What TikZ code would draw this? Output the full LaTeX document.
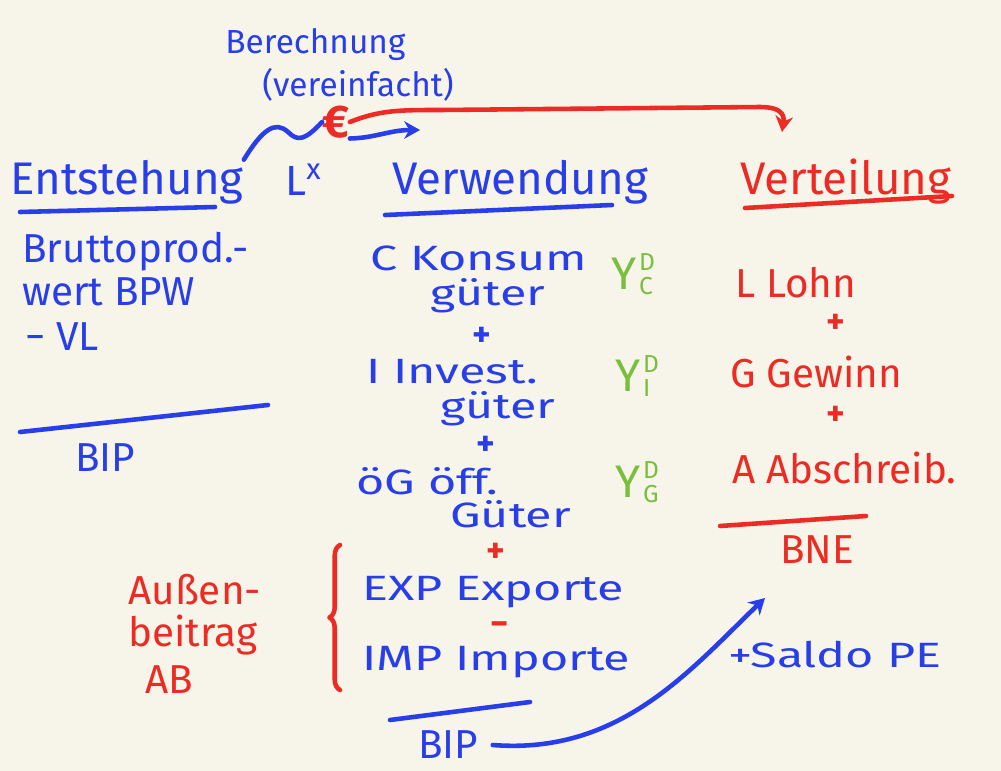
\documentclass[tikz,border=0pt]{standalone}
\usepackage{fontspec}
\setmainfont{Fira Sans}
\newfontfamily\widehand{Fira Sans}[FakeStretch=1.38]
\usetikzlibrary{arrows.meta,decorations.pathreplacing,positioning}
\definecolor{penblue}{RGB}{40,62,232}
\definecolor{penred}{RGB}{236,44,36}
\definecolor{pengreen}{RGB}{122,190,62}
\definecolor{paper}{RGB}{247,244,234}

\begin{document}
\begin{tikzpicture}[x=0.02cm,y=-0.02cm,
  bl/.style={text=penblue, font=\widehand\fontsize{20}{22}\selectfont, inner sep=0pt, anchor=west},
  rd/.style={bl, text=penred},
  gr/.style={text=pengreen, font=\fontsize{26}{28}\selectfont, inner sep=0pt},
  idx/.style={gr, align=left, font=\fontsize{14}{14}\selectfont, right=1pt of #1},
  head/.style={font=\fontsize{26}{28}\selectfont},
  big/.style={font=\fontsize{23}{25}\selectfont},
  sign/.style={anchor=center, font=\fontsize{20}{20}\selectfont\bfseries},
  pen/.style={line width=2.6pt, line cap=round, line join=round},
  arr/.style={pen, -{Stealth[length=9pt,width=10pt]}}]
\fill[paper] (0,0) rectangle (1001,771);
\node[bl, font=\fontsize{19}{21}\selectfont] (ber) at (225,45){Berechnung};
\node[bl, font=\fontsize{19}{21}\selectfont] (vereinf) at (262,85){(vereinfacht)};
\node[rd, anchor=center, font=\fontsize{26}{28}\selectfont\bfseries] (eur) at (336,122){€};
\node[bl, head] (ent) at (10,182){Entstehung};
\node[bl, font=\fontsize{24}{26}\selectfont] (lx) at (285,180){L\textsuperscript{x}};
\node[bl, head] (verw) at (392,182){Verwendung};
\node[rd, head] (vert) at (740,182){Verteilung};
\node[bl, big] (bpw1) at (22,252){Bruttoprod.-};
\node[bl, big] (bpw2) at (22,292){wert BPW};
\node[bl, big] (vl) at (25,337){− VL};
\node[bl, big] (bipa) at (75,458){BIP};
\node[bl] (cons) at (370,258){C Konsum};
\node[bl] (consg) at (430,296){güter};
\node[bl, sign] (plusa) at (482,337){+};
\node[bl] (inv) at (366,372){I Invest.};
\node[bl] (invg) at (440,409){güter};
\node[bl, sign] (plusb) at (486,446){+};
\node[bl] (oeg) at (356,481){öG öff.};
\node[bl] (oegg) at (450,514){Güter};
\node[rd, sign] (plusc) at (496,553){+};
\node[bl] (expo) at (362,592){EXP Exporte};
\node[rd, sign] (minus) at (500,629){−};
\node[bl] (impo) at (362,662){IMP Importe};
\node[bl, big] (bipb) at (418,745){BIP};
\node[gr] (ydc) at (624,274){Y};
\node[idx=ydc] (ydcx){D\\C};
\node[gr] (ydi) at (628,376){Y};
\node[idx=ydi] (ydix){D\\I};
\node[gr] (ydg) at (628,482){Y};
\node[idx=ydg] (ydgx){D\\G};
\node[rd, big] (lohn) at (735,283){L Lohn};
\node[rd, sign] (plusd) at (836,324){+};
\node[rd, big] (gew) at (730,372){G Gewinn};
\node[rd, sign] (pluse) at (836,416){+};
\node[rd, big] (abs) at (732,468){A Abschreib.};
\node[rd, big] (bne) at (780,550){BNE};
\node[rd, big] (aba) at (128,590){Außen-};
\node[rd, big] (abb) at (128,635){beitrag};
\node[rd, big] (abc) at (145,680){AB};
\node[bl] (saldo) at (728,655){+Saldo PE};
\coordinate (verin) at (782,132);
\coordinate (verwin) at (420,130);
\coordinate (bnein) at (765,598);
\draw[pen, penblue] (20,212) -- (215,207);
\draw[pen, penblue] (385,215) -- (612,205);
\draw[pen, penred] (745,208) -- (952,196);
\draw[pen, penblue] (20,432) -- (268,405);
\draw[pen, penblue] (390,720) -- (530,702);
\draw[pen, penred] (720,526) -- (866,516);
\draw[pen, penred, decorate, decoration={brace, amplitude=6pt}] (340,690) -- (340,545);
\draw[pen, penblue] (ent.north east) .. controls (262,130) and (275,120) .. (288,132)
  .. controls (298,142) and (305,140) .. (eur.west);
\draw[arr, penblue] (eur.south east) .. controls (375,138) and (390,130) .. (verwin);
\draw[arr, penred] (eur.east) .. controls (380,110) and (400,110) .. (440,110)
  -- (760,107) .. controls (785,107) and (784,118) .. (verin);
\draw[arr, penblue] ([xshift=8pt]bipb.east) .. controls (620,755) and (690,670) .. (bnein);
\end{tikzpicture}
\end{document}
